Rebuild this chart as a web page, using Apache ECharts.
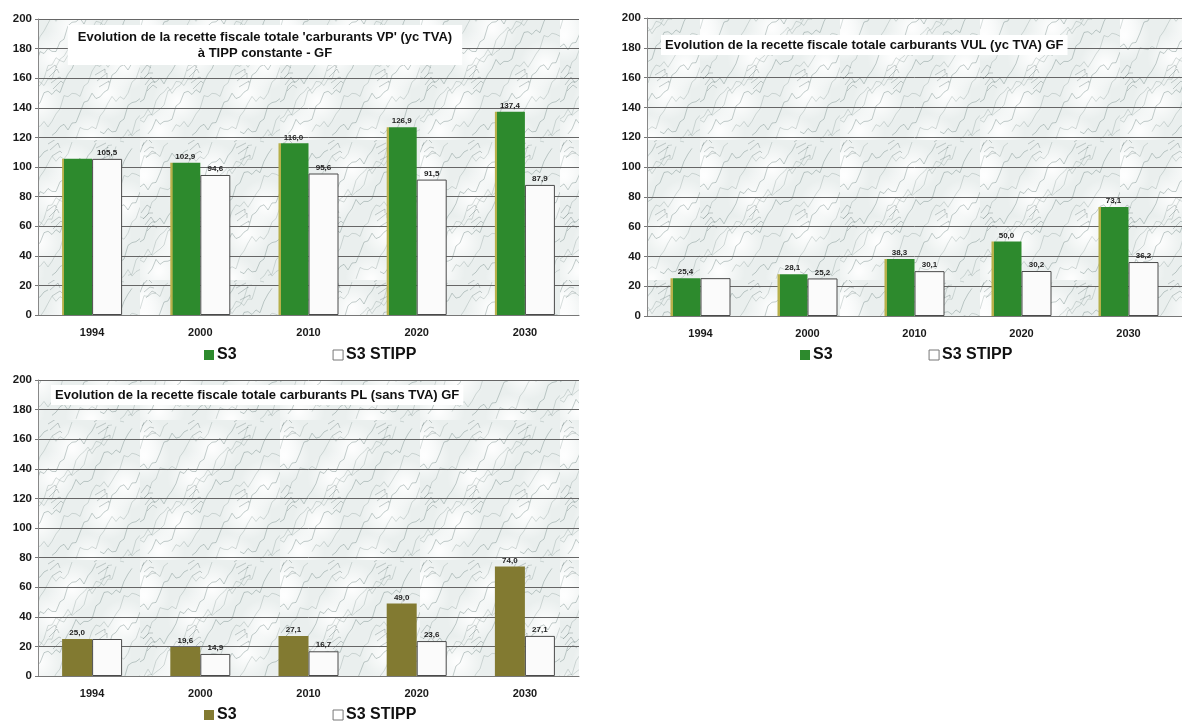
<!DOCTYPE html>
<html>
<head>
<meta charset="utf-8">
<script src="https://cdn.jsdelivr.net/npm/echarts@6/dist/echarts.min.js"></script>
<style>
  html, body { margin: 0; padding: 0; background: #ffffff; }
  #chart { width: 1182px; height: 721px; }
</style>
</head>
<body>
<div id="chart"></div>
<script>
// Years on the horizontal axes
const years = ['1994', '2000', '2010', '2020', '2030'];

// Recette fiscale carburants VP (yc TVA), TIPP constante
const vpS3 = [105.5, 102.9, 116.0, 126.9, 137.4];
const vpStipp = [105.5, 94.6, 95.6, 91.5, 87.9];

// Recette fiscale carburants VUL (yc TVA)
const vulS3 = [25.4, 28.1, 38.3, 50.0, 73.1];
const vulStipp = [25.4, 25.2, 30.1, 30.2, 36.2];

// Recette fiscale carburants PL (sans TVA)
const plS3 = [25.0, 19.6, 27.1, 49.0, 74.0];
const plStipp = [25.0, 14.9, 16.7, 23.6, 27.1];

// Value axis range
const yMin = 0;
const yMax = 200;
const yStep = 20;

// Bars whose value label is not printed (index into years)
const vpS3NoLabel = [0];
const vulStippNoLabel = [0];
const plStippNoLabel = [0];

const FONT = '"Liberation Sans", Arial, sans-serif';

// Light marble-like tile used behind each plot area
function marbleTile() {
  const c = document.createElement('canvas');
  c.width = 140; c.height = 140;
  const g = c.getContext('2d');
  g.fillStyle = '#eaefee';
  g.fillRect(0, 0, 140, 140);
  // soft cloudy patches
  for (let k = 0; k < 9; k++) {
    const cx = (k * 53) % 140, cy = (k * 37 + 20) % 140;
    const grd = g.createRadialGradient(cx, cy, 2, cx, cy, 26);
    grd.addColorStop(0, 'rgba(255,255,255,0.9)');
    grd.addColorStop(1, 'rgba(255,255,255,0)');
    g.fillStyle = grd;
    g.fillRect(cx - 26, cy - 26, 52, 52);
  }
  // thin diagonal veins
  const vein = (t, v, base) => 140 - t + base + 6 * Math.sin(t * 0.21 + v * 1.7) + 3 * Math.sin(t * 0.63 + v);
  g.lineWidth = 0.8;
  for (let v = 0; v < 7; v++) {
    g.strokeStyle = v % 2 ? 'rgba(85,110,108,0.42)' : 'rgba(110,132,130,0.34)';
    g.beginPath();
    const base = v * 24 - 20;
    let prev = null;
    for (let t = 0; t <= 140; t += 4) {
      const yy = ((vein(t, v, base) % 140) + 140) % 140;
      if (prev === null || Math.abs(yy - prev) > 20) g.moveTo(t, yy);
      else g.lineTo(t, yy);
      prev = yy;
    }
    g.stroke();
  }
  // small branching strokes
  g.strokeStyle = 'rgba(80,100,100,0.38)';
  for (let k = 0; k < 22; k++) {
    const x0 = (k * 47) % 140, y0 = (k * 71) % 140;
    g.beginPath();
    g.moveTo(x0, y0);
    g.lineTo(x0 + 6 + (k % 3) * 2, y0 - 5 - (k % 4));
    g.lineTo(x0 + 10, y0 - 2 - (k % 5));
    g.stroke();
  }
  return c;
}
const marble = { image: marbleTile(), repeat: 'repeat' };

const fmt = v => v.toFixed(1).replace('.', ',');

function withLabels(values, hidden) {
  return values.map((v, i) => hidden.indexOf(i) >= 0 ? { value: v, label: { show: false } } : v);
}

const greenFill = {
  type: 'linear', x: 0, y: 0, x2: 1, y2: 0,
  colorStops: [
    { offset: 0, color: '#b7b04a' },
    { offset: 0.07, color: '#b7b04a' },
    { offset: 0.08, color: '#2d8a2d' },
    { offset: 1, color: '#2d8a2d' }
  ]
};
const oliveFill = '#827a31';

const grids = [
  { left: 38, top: 19, width: 541, height: 296 },
  { left: 647, top: 18, width: 545, height: 298 },
  { left: 38, top: 380, width: 541, height: 296 }
];

function xAxisFor(i) {
  return {
    type: 'category', gridIndex: i, data: years,
    axisLine: { lineStyle: { color: '#777', width: 1 } },
    axisTick: { show: false },
    axisLabel: { color: '#1a1a1a', fontFamily: FONT, fontWeight: 'bold', fontSize: 11, margin: 12 }
  };
}
function yAxisFor(i) {
  return {
    type: 'value', gridIndex: i, min: yMin, max: yMax, interval: yStep,
    axisLine: { show: true, lineStyle: { color: '#888', width: 1 } },
    axisTick: { show: true, length: 3, lineStyle: { color: '#777' } },
    axisLabel: { color: '#1a1a1a', fontFamily: FONT, fontWeight: 'bold', fontSize: 11.5, margin: 6 },
    splitLine: { show: true, lineStyle: { color: '#666', width: 1 } }
  };
}

const valueLabel = {
  show: true, position: 'top', distance: 2,
  fontFamily: FONT, fontWeight: 'bold', fontSize: 8, color: '#222',
  formatter: p => fmt(p.value)
};

function barPair(i, s3, stipp, s3Fill, s3Name) {
  return [
    {
      name: s3Name, type: 'bar', xAxisIndex: i, yAxisIndex: i,
      data: s3, barWidth: 30, barGap: '0%',
      itemStyle: { color: s3Fill },
      label: valueLabel
    },
    {
      name: 'S3 STIPP', type: 'bar', xAxisIndex: i, yAxisIndex: i,
      data: stipp, barWidth: 30, barGap: '0%',
      itemStyle: { color: '#fbfbfb', borderColor: '#4a4a4a', borderWidth: 1 },
      label: valueLabel
    }
  ];
}

const titleText = {
  fontFamily: FONT, fontWeight: 'bold', fontSize: 13, color: '#111', lineHeight: 16
};

function legendFor(left, top, s3Color) {
  return {
    left: left, top: top, orient: 'horizontal', itemGap: 96,
    itemWidth: 10, itemHeight: 10, icon: 'rect', selectedMode: false,
    textStyle: { fontFamily: FONT, fontWeight: 'bold', fontSize: 16, color: '#111', padding: [0, 0, 0, -2] },
    data: [
      { name: 'S3', itemStyle: { color: s3Color, borderWidth: 0 } },
      { name: 'S3 STIPP', itemStyle: { color: '#ffffff', borderColor: '#777', borderWidth: 1 } }
    ]
  };
}

const option = {
  backgroundColor: '#ffffff',
  animation: false,
  title: [
    {
      text: "Evolution de la recette fiscale totale 'carburants VP' (yc TVA)\nà TIPP constante - GF",
      left: 255, top: 25, textAlign: 'center',
      backgroundColor: '#ffffff', padding: [4, 10],
      textStyle: Object.assign({ align: 'center' }, titleText)
    },
    {
      text: 'Evolution de la recette fiscale totale carburants VUL (yc TVA) GF',
      left: 661, top: 35,
      backgroundColor: '#ffffff', padding: [2, 4],
      textStyle: titleText
    },
    {
      text: 'Evolution de la recette fiscale totale carburants PL (sans TVA) GF',
      left: 51, top: 385,
      backgroundColor: '#ffffff', padding: [2, 4],
      textStyle: titleText
    }
  ],
  legend: [
    legendFor(199, 342, '#2d8a2d'),
    legendFor(795, 342, '#2d8a2d'),
    legendFor(199, 702, oliveFill)
  ],
  grid: grids.map(g => Object.assign({ show: true, backgroundColor: marble, borderWidth: 0 }, g)),
  xAxis: [xAxisFor(0), xAxisFor(1), xAxisFor(2)],
  yAxis: [yAxisFor(0), yAxisFor(1), yAxisFor(2)],
  series: [].concat(
    barPair(0, withLabels(vpS3, vpS3NoLabel), withLabels(vpStipp, []), greenFill, 'S3'),
    barPair(1, withLabels(vulS3, []), withLabels(vulStipp, vulStippNoLabel), greenFill, 'S3'),
    barPair(2, withLabels(plS3, []), withLabels(plStipp, plStippNoLabel), oliveFill, 'S3')
  )
};

const chart = echarts.init(document.getElementById('chart'), null, { renderer: 'canvas' });
chart.setOption(option);
</script>
</body>
</html>
